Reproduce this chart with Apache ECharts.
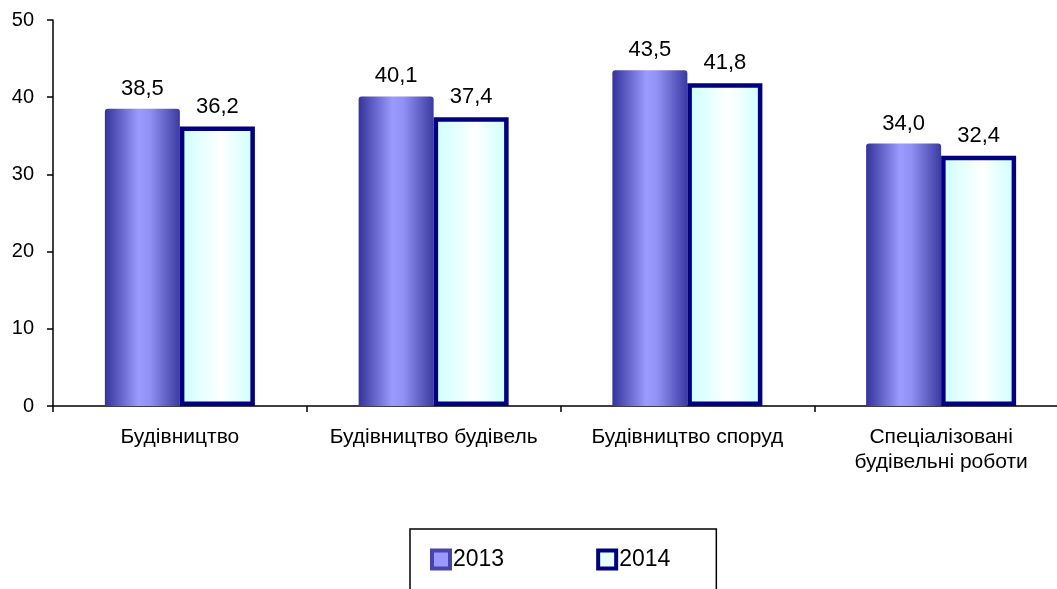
<!DOCTYPE html>
<html>
<head>
<meta charset="utf-8">
<script src="https://cdn.jsdelivr.net/npm/echarts@6/dist/echarts.min.js"></script>
<style>
  html, body { margin: 0; padding: 0; background: #fff; }
  #chart { width: 1057px; height: 589px; }
</style>
</head>
<body>
<div id="chart"></div>
<script>
const categories = ['Будівництво', 'Будівництво будівель', 'Будівництво споруд', 'Спеціалізовані\nбудівельні роботи']
const values2013 = [38.5, 40.1, 43.5, 34.0]
const values2014 = [36.2, 37.4, 41.8, 32.4]
const yTicks = [0, 10, 20, 30, 40, 50]

const chart = echarts.init(document.getElementById('chart'))
const font = 'Liberation Sans, Arial, sans-serif'

const fill2013 = new echarts.graphic.LinearGradient(0, 0, 1, 0, [
  { offset: 0, color: '#33339a' },
  { offset: 0.45, color: '#9a9aff' },
  { offset: 0.6, color: '#9090f5' },
  { offset: 1, color: '#3a3aa0' }
])
const fill2014 = new echarts.graphic.LinearGradient(0, 0, 1, 0, [
  { offset: 0, color: '#ccffff' },
  { offset: 0.55, color: '#ffffff' },
  { offset: 1, color: '#ccffff' }
])

const fmt = p => p.value.toFixed(1).replace('.', ',')
const labelStyle = { show: true, position: 'top', distance: 9, formatter: fmt, fontFamily: font, fontSize: 22, color: '#000' }

chart.setOption({
  animation: false,
  backgroundColor: '#fff',
  // the source picture is cropped on the right, so the plot runs a bit past the edge
  grid: { left: 53, right: -11, top: 20, bottom: 183, outerBoundsMode: 'none' },
  legend: {
    left: 410,
    top: 529,
    padding: [19, 46, 40, 20],
    borderColor: '#000',
    borderWidth: 1.5,
    itemWidth: 18,
    itemHeight: 18,
    itemGap: 92,
    textStyle: { fontFamily: font, fontSize: 23, color: '#000', padding: [0, 0, 0, -2] },
    data: [
      { name: '2013', icon: 'rect', itemStyle: { color: '#9999ff', borderColor: '#4646a8', borderWidth: 4 } },
      { name: '2014', icon: 'rect', itemStyle: { color: '#e6ffff', borderColor: '#000080', borderWidth: 4 } }
    ]
  },
  xAxis: {
    type: 'category',
    data: categories,
    axisLine: { lineStyle: { color: '#000', width: 1.5 } },
    axisTick: { show: true, interval: 0, length: 6, lineStyle: { color: '#000', width: 1.5 } },
    axisLabel: { interval: 0, fontFamily: font, fontSize: 21, color: '#000', margin: 19, lineHeight: 25 }
  },
  yAxis: {
    type: 'value',
    min: yTicks[0],
    max: yTicks[yTicks.length - 1],
    interval: 10,
    splitLine: { show: false },
    axisLine: { show: true, lineStyle: { color: '#000', width: 1.5 } },
    axisTick: { show: true, length: 6, lineStyle: { color: '#000', width: 1.5 } },
    axisLabel: { fontFamily: font, fontSize: 20, color: '#000', margin: 19 }
  },
  series: [
    {
      name: '2013',
      type: 'bar',
      data: values2013,
      barWidth: 75,
      barGap: '0%',
      itemStyle: { color: fill2013, borderRadius: [3, 3, 0, 0] },
      label: labelStyle
    },
    {
      name: '2014',
      type: 'bar',
      data: values2014,
      barWidth: 75,
      itemStyle: { color: fill2014, borderColor: '#000080', borderWidth: 4.5 },
      label: labelStyle
    }
  ]
})
</script>
</body>
</html>
